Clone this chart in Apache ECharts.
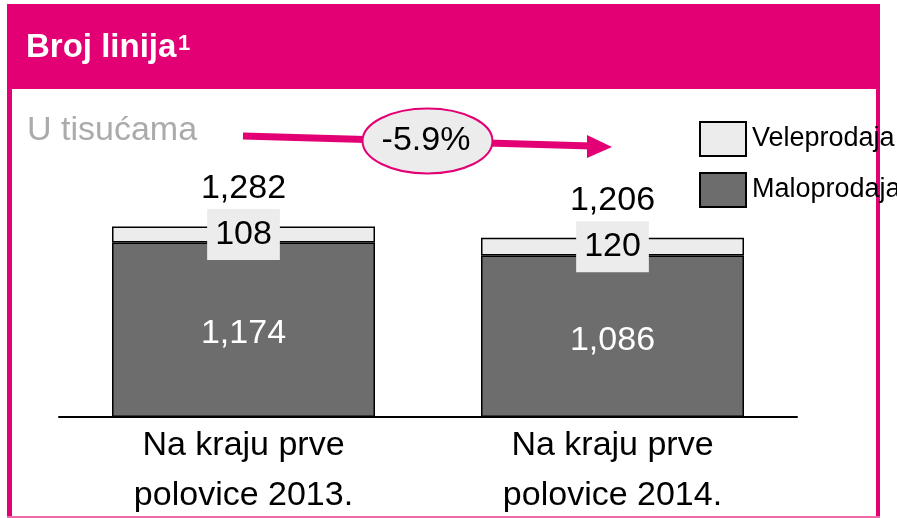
<!DOCTYPE html>
<html>
<head>
<meta charset="utf-8">
<script src="https://cdn.jsdelivr.net/npm/echarts@6/dist/echarts.min.js"></script>
<style>
  html, body { margin: 0; padding: 0; background: #fff; }
  #main { width: 897px; height: 518px; }
</style>
</head>
<body>
<div id="main"></div>
<script>
// data
const categories = ['Na kraju prve\npolovice 2013.', 'Na kraju prve\npolovice 2014.']
const maloprodaja = [1174, 1086]
const veleprodaja = [108, 120]
const totals = [1282, 1206]
const change = '-5.9%'

const magenta = '#e20074'
const font = 'Liberation Sans, Arial, sans-serif'
const fmt = v => v.toLocaleString('en-US')

const myChart = echarts.init(document.getElementById('main'))

myChart.setOption({
  animation: false,
  title: {
    text: 'Broj linija',
    left: 26,
    top: 31,
    padding: 0,
    textStyle: { color: '#fff', fontSize: 33, fontWeight: 'bold', fontFamily: font }
  },
  legend: {
    orient: 'vertical',
    left: 694,
    top: 116,
    itemWidth: 46,
    itemHeight: 34,
    itemGap: 15,
    icon: 'rect',
    data: ['Veleprodaja', 'Maloprodaja'],
    itemStyle: { borderColor: '#000', borderWidth: 2 },
    textStyle: { fontSize: 27, color: '#000', fontFamily: font, padding: [0, 0, 0, 1] }
  },
  grid: { left: 59, right: 100, top: 194, bottom: 101, outerBoundsMode: 'none' },
  xAxis: {
    type: 'category',
    data: categories,
    axisLine: { lineStyle: { color: '#000', width: 2 } },
    axisTick: { show: false },
    axisLabel: { color: '#000', fontSize: 34, lineHeight: 50, margin: 4, fontFamily: font }
  },
  yAxis: { type: 'value', min: 0, max: 1500, show: false },
  series: [
    {
      name: 'Maloprodaja',
      type: 'bar',
      stack: 'a',
      barWidth: 263,
      data: maloprodaja,
      itemStyle: { color: '#6d6d6d', borderColor: '#000', borderWidth: 1.5 },
      label: { show: true, position: 'inside', offset: [0, 4], color: '#fff', fontSize: 34, fontFamily: font, formatter: p => fmt(p.value) }
    },
    {
      name: 'Veleprodaja',
      type: 'bar',
      stack: 'a',
      barWidth: 263,
      data: veleprodaja,
      itemStyle: { color: '#ececec', borderColor: '#000', borderWidth: 1.5 },
      label: {
        show: true, position: 'inside', color: '#000', fontSize: 34, fontFamily: font,
        backgroundColor: '#ececec', padding: [8, 8, 8, 8], lineHeight: 35,
        formatter: p => fmt(p.value)
      }
    },
    {
      // totals above the stacks
      name: 'total',
      type: 'line',
      data: totals,
      symbol: 'circle',
      symbolSize: 1,
      showSymbol: true,
      itemStyle: { color: 'rgba(0,0,0,0)' },
      lineStyle: { width: 0, color: 'rgba(0,0,0,0)' },
      label: { show: true, position: 'top', distance: 20, color: '#000', fontSize: 34, fontFamily: font, formatter: p => fmt(p.value) }
    }
  ],
  graphic: [
    { type: 'rect', z: 0, shape: { x: 7, y: 4, width: 873, height: 85 }, style: { fill: magenta } },
    { type: 'rect', z: 0, shape: { x: 7, y: 4, width: 5, height: 514 }, style: { fill: magenta } },
    { type: 'rect', z: 0, shape: { x: 876, y: 4, width: 4, height: 514 }, style: { fill: magenta } },
    { type: 'rect', z: 0, shape: { x: 7, y: 516, width: 873, height: 2 }, style: { fill: '#ee6aa8' } },
    {
      type: 'text', z: 10, x: 178, y: 33,
      style: { text: '1', font: 'bold 22px ' + font, fill: '#fff' }
    },
    {
      type: 'text', z: 10, x: 27, y: 114,
      style: { text: 'U tisućama', font: '34px ' + font, fill: '#ababab' }
    },
    // change arrow
    { type: 'line', z: 1, shape: { x1: 243, y1: 136, x2: 592, y2: 146 }, style: { stroke: magenta, lineWidth: 7 } },
    { type: 'polygon', z: 1, shape: { points: [[587, 135], [612, 147], [587, 158]] }, style: { fill: magenta } },
    { type: 'ellipse', z: 2, shape: { cx: 427.5, cy: 141, rx: 65, ry: 32.5 }, style: { fill: '#ececec', stroke: magenta, lineWidth: 2 } },
    {
      type: 'text', z: 3, x: 426, y: 141,
      style: { text: change, font: '34px ' + font, fill: '#000', align: 'center', verticalAlign: 'middle' }
    }
  ]
})
</script>
</body>
</html>
